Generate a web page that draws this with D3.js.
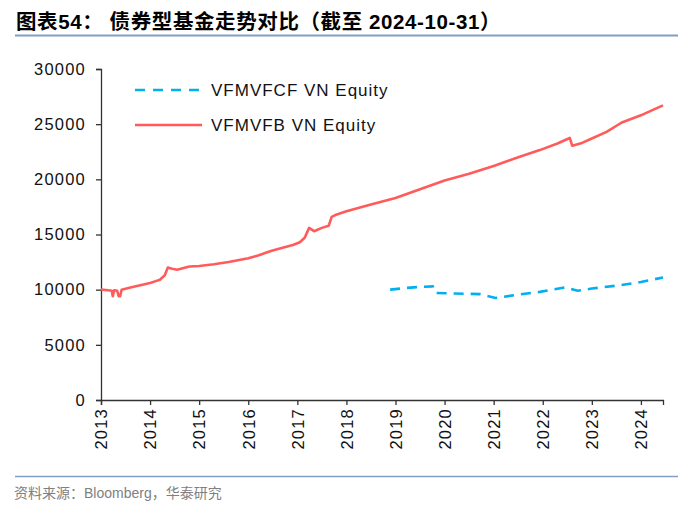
<!DOCTYPE html>
<html><head><meta charset="utf-8">
<script src="https://cdn.jsdelivr.net/npm/d3@7/dist/d3.min.js"></script>
<style>body{margin:0;background:#fff}svg{display:block}</style>
</head><body>
<svg id="c" width="700" height="508"></svg>
<script>
const title = "图表54：  债券型基金走势对比（截至 2024-10-31）";
const source = "资料来源：Bloomberg，华泰研究";
const seriesNames = ["VFMVFCF VN Equity", "VFMVFB VN Equity"];
const yTicks = [0, 5000, 10000, 15000, 20000, 25000, 30000];
const xTicks = [2013, 2014, 2015, 2016, 2017, 2018, 2019, 2020, 2021, 2022, 2023, 2024];
// VFMVFB (red): [year, value]
const fbYears = [2013.00,2013.15,2013.22,2013.24,2013.27,2013.33,2013.36,2013.39,2013.42,2013.6,2013.8,2014.0,2014.1,2014.2,2014.3,2014.36,2014.45,2014.55,2014.8,2015.0,2015.3,2015.6,2016.0,2016.2,2016.46,2016.7,2016.91,2017.05,2017.15,2017.24,2017.34,2017.5,2017.64,2017.70,2017.79,2018.0,2018.48,2019.0,2019.5,2020.0,2020.5,2021.0,2021.5,2021.94,2022.3,2022.55,2022.60,2022.8,2023.0,2023.3,2023.61,2024.0,2024.2,2024.45];
const fbValues = [10000,9950,9900,9400,9950,9900,9400,9400,10000,10200,10400,10600,10750,10900,11300,12000,11900,11800,12100,12150,12300,12500,12850,13100,13500,13800,14050,14300,14700,15600,15300,15600,15800,16600,16800,17100,17700,18300,19100,19900,20500,21200,22000,22650,23250,23750,23050,23300,23700,24300,25150,25800,26200,26700];
// VFMVFCF (blue dashed)
const fcYears = [2018.89,2019.2,2019.5,2019.76,2019.82,2020.2,2020.72,2021.04,2021.5,2021.94,2022.45,2022.71,2023.0,2023.57,2024.0,2024.45];
const fcValues = [10000,10150,10250,10300,9700,9650,9600,9250,9550,9800,10200,9900,10100,10400,10700,11100];

const svg = d3.select("#c");
const x = d3.scaleLinear().domain([2013, 2024.45]).range([101, 663]);
const y = d3.scaleLinear().domain([0, 30000]).range([400, 69]);
const font = "'Liberation Sans', Arial, 'Noto Sans CJK SC', sans-serif";

// title
svg.append("text").attr("x", 16).attr("y", 29).attr("font-family", font)
  .attr("font-weight", "bold").attr("font-size", 20.5).attr("letter-spacing", 0.6).attr("fill", "#000").text(title);
svg.append("line").attr("x1", 15).attr("x2", 678).attr("y1", 35.5).attr("y2", 35.5)
  .attr("stroke", "#7F9FC9").attr("stroke-width", 2);
svg.append("line").attr("x1", 15).attr("x2", 678).attr("y1", 476.5).attr("y2", 476.5)
  .attr("stroke", "#7F9FC9").attr("stroke-width", 1.5);
svg.append("text").attr("x", 14).attr("y", 498).attr("font-family", font)
  .attr("font-size", 14).attr("fill", "#808080").text(source);

// axes
const yAxis = svg.append("g").attr("transform", "translate(101,0)")
  .call(d3.axisLeft(y).tickValues(yTicks).tickSize(5).tickPadding(10).tickFormat(d3.format("d")));
yAxis.selectAll("text").attr("font-family", font).attr("font-size", 16.5).attr("letter-spacing", 1.2).attr("fill", "#111");
const xAxis = svg.append("g").attr("transform", "translate(0,400)")
  .call(d3.axisBottom(x).tickValues(xTicks).tickSize(5).tickFormat(d3.format("d")));
xAxis.selectAll("text").attr("font-family", font).attr("font-size", 16.5).attr("letter-spacing", 1.2).attr("fill", "#111")
  .attr("transform", "rotate(-90)").attr("text-anchor", "end").attr("x", -8).attr("y", 0).attr("dy", "0.35em");
svg.selectAll(".domain, .tick line").attr("stroke", "#333").attr("stroke-width", 1.3);

const line = d3.line().x(d => x(d[0])).y(d => y(d[1]));
const fb = fbYears.map((d, i) => [d, fbValues[i]]);
const fc = fcYears.map((d, i) => [d, fcValues[i]]);
svg.append("path").datum(fb).attr("d", line).attr("fill", "none")
  .attr("stroke", "#FF5B5B").attr("stroke-width", 2.6).attr("stroke-linejoin", "round");
svg.append("path").datum(fc).attr("d", line).attr("fill", "none")
  .attr("stroke", "#00B0F0").attr("stroke-width", 2.6).attr("stroke-dasharray", "10,7");

// legend
const lg = svg.append("g");
lg.append("line").attr("x1", 135).attr("x2", 202).attr("y1", 90).attr("y2", 90)
  .attr("stroke", "#00B0F0").attr("stroke-width", 2.6).attr("stroke-dasharray", "10,8");
lg.append("line").attr("x1", 135).attr("x2", 202).attr("y1", 125).attr("y2", 125)
  .attr("stroke", "#FF5B5B").attr("stroke-width", 2.6);
seriesNames.forEach((n, i) => {
  lg.append("text").attr("x", 211).attr("y", 90 + i * 35).attr("dy", "0.35em")
    .attr("font-family", font).attr("font-size", 17).attr("letter-spacing", 1).attr("fill", "#111").text(n);
});
</script>
</body></html>
